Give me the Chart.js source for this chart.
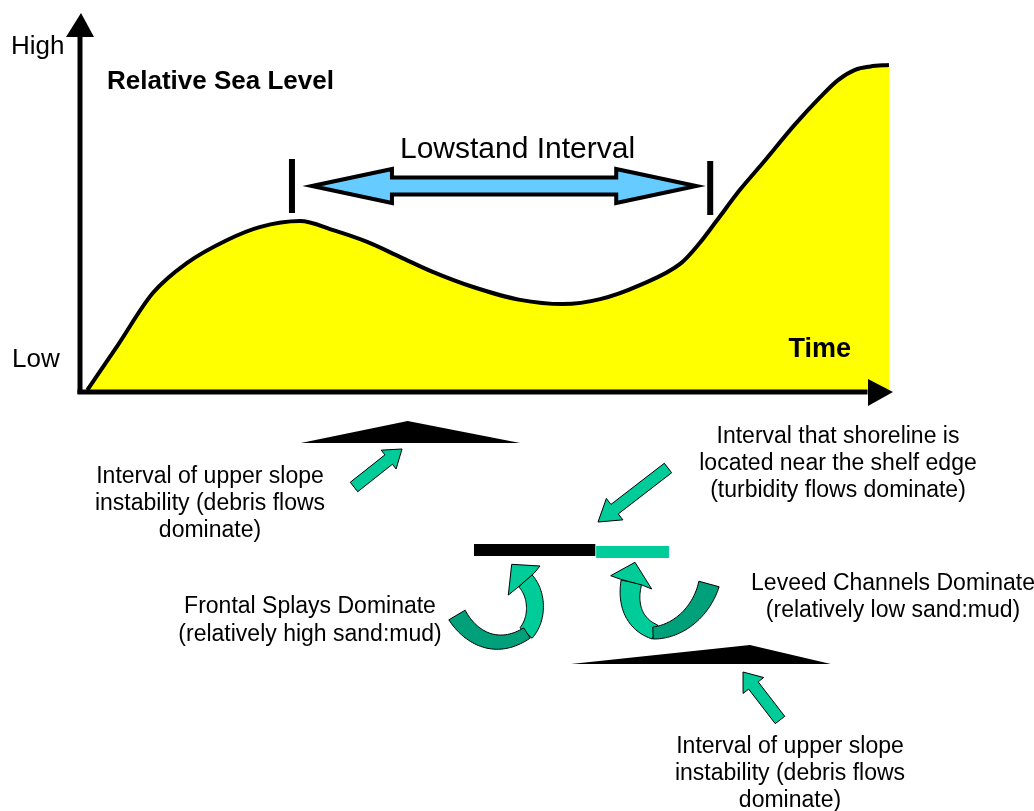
<!DOCTYPE html>
<html>
<head>
<meta charset="utf-8">
<script src="https://cdn.jsdelivr.net/npm/chart.js@4.4.1/dist/chart.umd.min.js"></script>
<style>
  html, body { margin: 0; padding: 0; background: #fff; }
  canvas { display: block; }
</style>
</head>
<body>
<canvas id="grafico" width="1034" height="811"></canvas>
<script>
// Curva del nivel relativo del mar (tiempo 0-100, nivel 0-100)
const tiempo   = [0.9, 4.6, 9.0, 13.2, 18.2, 22.2, 27.2, 31.3, 35.5, 39.6, 43.6, 48.6, 54.4, 59.7, 64.3, 69.2, 74.3, 76.6, 78.6, 81.6, 84.4, 88.3, 91.5, 93.7, 95.8, 97.7, 100];
const nivelMar = [0.5, 12.1, 26.1, 34.0, 40.1, 43.5, 45.1, 42.7, 39.6, 35.6, 31.7, 27.7, 24.3, 23.2, 24.5, 28.2, 34.0, 39.3, 44.9, 53.4, 60.4, 70.4, 77.8, 82.3, 85.0, 85.9, 86.3];

// Intervalos sobre el eje del tiempo
const lowstand        = [26.2, 77.9];        // inicio, fin
const inestabilidad1  = [27.3, 40.5, 54.4];  // inicio, pico, fin
const inestabilidad2  = [60.7, 82.8, 92.8];
const frontalSplays   = [48.7, 63.7];
const leveedChannels  = [63.8, 72.8];

const FONT = '"Liberation Sans", Arial, sans-serif';
const TEAL = '#00CC99';
const TEAL_OSCURO = '#00A07A';

function poligono(ctx, pts, fill, stroke, lw) {
  ctx.beginPath();
  pts.forEach((p, i) => i ? ctx.lineTo(p[0], p[1]) : ctx.moveTo(p[0], p[1]));
  ctx.closePath();
  if (fill) { ctx.fillStyle = fill; ctx.fill(); }
  if (stroke) { ctx.strokeStyle = stroke; ctx.lineWidth = lw || 1; ctx.stroke(); }
}

// flecha recta: cola (x1,y1) -> punta (x2,y2)
function flecha(ctx, x1, y1, x2, y2, ancho, anchoCabeza, largoCabeza) {
  const dx = x2 - x1, dy = y2 - y1, L = Math.hypot(dx, dy);
  const ux = dx / L, uy = dy / L, nx = -uy, ny = ux;
  const bx = x2 - ux * largoCabeza, by = y2 - uy * largoCabeza;
  const a = ancho / 2, h = anchoCabeza / 2;
  poligono(ctx, [
    [x1 + nx * a, y1 + ny * a], [bx + nx * a, by + ny * a], [bx + nx * h, by + ny * h],
    [x2, y2],
    [bx - nx * h, by - ny * h], [bx - nx * a, by - ny * a], [x1 - nx * a, y1 - ny * a]
  ], TEAL, '#000', 1);
}

// cinta curva (bezier cubica) con ancho variable
function cinta(ctx, p0, c1, c2, p3, w0, w1, color) {
  const izq = [], der = [];
  const N = 40;
  for (let i = 0; i <= N; i++) {
    const t = i / N, m = 1 - t;
    const x = m*m*m*p0[0] + 3*m*m*t*c1[0] + 3*m*t*t*c2[0] + t*t*t*p3[0];
    const y = m*m*m*p0[1] + 3*m*m*t*c1[1] + 3*m*t*t*c2[1] + t*t*t*p3[1];
    const dx = 3*m*m*(c1[0]-p0[0]) + 6*m*t*(c2[0]-c1[0]) + 3*t*t*(p3[0]-c2[0]);
    const dy = 3*m*m*(c1[1]-p0[1]) + 6*m*t*(c2[1]-c1[1]) + 3*t*t*(p3[1]-c2[1]);
    const L = Math.hypot(dx, dy) || 1;
    const w = (w0 + (w1 - w0) * t) / 2;
    izq.push([x - dy / L * w, y + dx / L * w]);
    der.push([x + dy / L * w, y - dx / L * w]);
  }
  poligono(ctx, izq.concat(der.reverse()), color, '#000', 1);
}

function textos(ctx, lineas, cx, y0, lh, font) {
  ctx.font = font;
  ctx.textAlign = 'center';
  lineas.forEach((l, i) => ctx.fillText(l, cx, y0 + i * lh));
}

const anotaciones = {
  id: 'anotaciones',
  beforeDraw(chart) {
    const ctx = chart.ctx;
    ctx.save();
    ctx.fillStyle = '#fff';
    ctx.fillRect(0, 0, chart.width, chart.height);
    ctx.restore();
  },
  afterDatasetsDraw(chart) {
    const ctx = chart.ctx;
    const X = v => chart.scales.x.getPixelForValue(v);
    const area = chart.chartArea;
    const x0 = X(0), y0 = chart.scales.y.getPixelForValue(0);
    ctx.save();
    ctx.fillStyle = '#000';

    // ejes con flechas
    ctx.fillRect(x0 - 2.5, area.top + 22, 5, y0 - area.top - 20);
    poligono(ctx, [[x0 - 14, area.top + 24], [x0 + 1, area.top], [x0 + 14, area.top + 24]], '#000');
    ctx.fillRect(x0 - 2.5, y0 - 2.5, area.right - x0 - 19, 5);
    poligono(ctx, [[area.right - 21, y0 - 13], [area.right + 4, y0], [area.right - 21, y0 + 14]], '#000');

    // textos del grafico
    ctx.fillStyle = '#000';
    ctx.textAlign = 'left';
    ctx.font = '26px ' + FONT;
    ctx.fillText('High', 11, 54);
    ctx.fillText('Low', 12, 367);
    ctx.font = 'bold 26px ' + FONT;
    ctx.fillText('Relative Sea Level', 107, 89);
    ctx.textAlign = 'right';
    ctx.font = 'bold 27px ' + FONT;
    ctx.fillText('Time', 851, 357);
    ctx.textAlign = 'left';
    ctx.font = '30px ' + FONT;
    ctx.fillText('Lowstand Interval', 400, 158);

    // marcas del intervalo lowstand
    const xa = X(lowstand[0]), xb = X(lowstand[1]);
    ctx.fillStyle = '#000';
    ctx.fillRect(xa - 3, 159, 6, 54);
    ctx.fillRect(xb - 3, 161, 6, 54);

    // flecha doble azul
    const L = xa + 20, R = xb - 14, cy = 186, hc = 80;
    ctx.lineJoin = 'miter';
    ctx.miterLimit = 10;
    poligono(ctx, [
      [L, cy], [L + hc, cy - 17], [L + hc, cy - 8.5], [R - hc, cy - 8.5], [R - hc, cy - 17],
      [R, cy], [R - hc, cy + 17], [R - hc, cy + 8.5], [L + hc, cy + 8.5], [L + hc, cy + 17]
    ], '#66CCFF', '#000', 4);
    ctx.lineJoin = 'round';

    // intervalos de inestabilidad (triangulos)
    poligono(ctx, [[X(inestabilidad1[0]), 443], [X(inestabilidad1[1]), 421], [X(inestabilidad1[2]), 443]], '#000');
    poligono(ctx, [[X(inestabilidad2[0]), 664], [X(inestabilidad2[1]), 645], [X(inestabilidad2[2]), 664]], '#000');

    // barras de la linea de costa
    ctx.fillStyle = '#000';
    ctx.fillRect(X(frontalSplays[0]), 544, X(frontalSplays[1]) - X(frontalSplays[0]), 12);
    ctx.fillStyle = TEAL;
    ctx.fillRect(X(leveedChannels[0]), 546, X(leveedChannels[1]) - X(leveedChannels[0]), 12);

    // flechas rectas
    flecha(ctx, 354, 487, 402, 449, 12, 24, 17);
    flecha(ctx, 668, 468, 598, 522, 12, 27, 21);
    flecha(ctx, 780, 720, 743, 672, 12, 26, 17);

    // flecha curva izquierda
    cinta(ctx, [525.3, 580.8], [537, 593], [539, 618], [526, 633], 18, 16, TEAL);
    cinta(ctx, [457, 615], [470, 637], [496, 653], [527, 633], 19, 12, TEAL_OSCURO);
    poligono(ctx, [[516.7, 588.3], [508.3, 595], [511.7, 564.3], [540, 566], [534, 573.3]], TEAL, '#000', 1);

    // flecha curva derecha
    cinta(ctx, [631.4, 582.2], [627, 603], [633, 624], [655, 632], 21, 15, TEAL);
    cinta(ctx, [653, 633], [677, 632], [701, 613], [709, 584], 12, 21, TEAL_OSCURO);
    poligono(ctx, [[620.7, 579.3], [610.7, 575.7], [635, 562.3], [651.7, 589], [642, 585]], TEAL, '#000', 1);

    // textos inferiores
    ctx.fillStyle = '#000';
    textos(ctx, ['Interval of upper slope', 'instability (debris flows', 'dominate)'], 210, 483, 27, '23px ' + FONT);
    textos(ctx, ['Frontal Splays Dominate', '(relatively high sand:mud)'], 310, 613, 28, '23px ' + FONT);
    textos(ctx, ['Interval that shoreline is', 'located near the shelf edge', '(turbidity flows dominate)'], 838, 443, 27, '23px ' + FONT);
    textos(ctx, ['Leveed Channels Dominate', '(relatively low sand:mud)'], 893, 590, 27, '23px ' + FONT);
    textos(ctx, ['Interval of upper slope', 'instability (debris flows', 'dominate)'], 790, 753, 27, '23px ' + FONT);
    ctx.restore();
  }
};

new Chart(document.getElementById('grafico'), {
  type: 'line',
  data: {
    datasets: [{
      label: 'Relative Sea Level',
      data: tiempo.map((t, i) => ({ x: t, y: nivelMar[i] })),
      borderColor: '#000',
      borderWidth: 4,
      backgroundColor: '#FFFF00',
      fill: 'origin',
      cubicInterpolationMode: 'monotone',
      pointRadius: 0
    }]
  },
  options: {
    responsive: false,
    animation: false,
    events: [],
    layout: { padding: { left: 80, top: 13, right: 145, bottom: 419 } },
    plugins: { legend: { display: false }, tooltip: { enabled: false }, title: { display: false } },
    scales: {
      x: { type: 'linear', min: 0, max: 100, display: false },
      y: { min: 0, max: 100, display: false }
    }
  },
  plugins: [anotaciones]
});
</script>
</body>
</html>
